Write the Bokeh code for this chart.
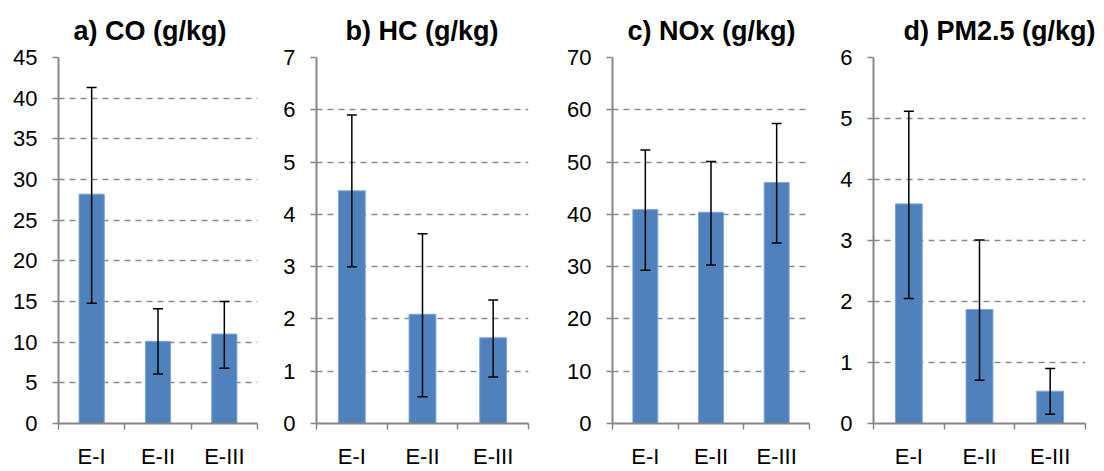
import numpy as np
from bokeh.plotting import figure
from bokeh.layouts import row
from bokeh.models import (ColumnDataSource, Whisker, TeeHead, FixedTicker,
                          Range1d, Title)
from bokeh.embed import file_html
from bokeh.resources import INLINE

categories = ["E-I", "E-II", "E-III"]

titles = ["a) CO (g/kg)", "b) HC (g/kg)", "c) NOx (g/kg)", "d) PM2.5 (g/kg)"]

co_mean = [28.2, 10.1, 11.0]
co_low = [14.8, 6.1, 6.8]
co_high = [41.3, 14.1, 15.0]

hc_mean = [4.45, 2.09, 1.64]
hc_low = [3.0, 0.51, 0.89]
hc_high = [5.90, 3.63, 2.36]

nox_mean = [40.9, 40.4, 46.1]
nox_low = [29.3, 30.3, 34.5]
nox_high = [52.3, 50.1, 57.4]

pm_mean = [3.60, 1.87, 0.53]
pm_low = [2.05, 0.71, 0.15]
pm_high = [5.12, 3.01, 0.90]

y_max = [45, 7, 70, 6]
y_step = [5, 1, 10, 1]

series = [(co_mean, co_low, co_high), (hc_mean, hc_low, hc_high),
          (nox_mean, nox_low, nox_high), (pm_mean, pm_low, pm_high)]

# layout (pixels): figure width, left border, right border, title offset
fig_w = [280, 280, 275, 269]
b_left = [58, 36, 52, 38]
b_right = [23, 32, 26, 19]
title_off = [15, 29, 15, 30]

H = 471
B_TOP = 57
B_BOTTOM = 47

FONT = "Liberation Sans"
GREY = "#868686"
GRID = "#8C8C8C"
BLUE = "#4F81BD"

figs = []
for i in range(4):
    mean, lo, hi = series[i]
    n = len(categories)
    xs = list(np.arange(n) + 0.5)
    src = ColumnDataSource(dict(x=xs, top=mean, lo=lo, hi=hi))

    p = figure(width=fig_w[i], height=H, output_backend="svg",
               toolbar_location=None, min_border_left=b_left[i],
               min_border_right=b_right[i], min_border_top=B_TOP,
               min_border_bottom=B_BOTTOM,
               x_range=Range1d(0, n), y_range=Range1d(0, y_max[i]))
    p.outline_line_color = None
    p.background_fill_color = "white"
    p.border_fill_color = "white"

    p.vbar(x="x", top="top", width=0.38, source=src, fill_color=BLUE,
           line_color="#7FA6D9", line_width=1)

    w = Whisker(source=src, base="x", upper="hi", lower="lo",
                dimension="height", line_color="black", line_width=1.5,
                upper_head=TeeHead(size=10, line_color="black", line_width=1.5),
                lower_head=TeeHead(size=10, line_color="black", line_width=1.5),
                level="overlay")
    p.add_layout(w)

    # x axis: labels at category centres, ticks at boundaries
    xa = p.xaxis[0]
    xa.ticker = FixedTicker(ticks=xs, minor_ticks=list(range(n + 1)))
    xa.major_label_overrides = {float(x): c for x, c in zip(xs, categories)}
    xa.major_tick_line_color = None
    xa.minor_tick_out = 6
    xa.minor_tick_in = 0
    xa.minor_tick_line_color = GREY
    xa.minor_tick_line_width = 1.5
    xa.axis_line_color = GREY
    xa.axis_line_width = 2
    xa.major_label_text_font = FONT
    xa.major_label_text_font_size = "22px"
    xa.major_label_text_color = "black"
    xa.major_label_standoff = 14

    ya = p.yaxis[0]
    ya.ticker = FixedTicker(ticks=list(range(0, y_max[i] + 1, y_step[i])))
    ya.minor_tick_line_color = None
    ya.major_tick_out = 6
    ya.major_tick_in = 0
    ya.major_tick_line_color = GREY
    ya.major_tick_line_width = 1.5
    ya.axis_line_color = GREY
    ya.axis_line_width = 2
    ya.major_label_text_font = FONT
    ya.major_label_text_font_size = "22px"
    ya.major_label_text_color = "black"
    ya.major_label_standoff = 15

    p.xgrid.grid_line_color = None
    p.ygrid.grid_line_color = GRID
    p.ygrid.grid_line_dash = "6 5"
    p.ygrid.grid_line_width = 1.5

    p.add_layout(Title(text=titles[i], text_font=FONT, text_font_style="bold",
                       text_font_size="27px", text_color="black",
                       align="left", offset=title_off[i], standoff=24,
                       vertical_align="bottom"), "above")
    figs.append(p)

layout = row(*figs, spacing=0)
open("out.html", "w").write(file_html(layout, INLINE))
